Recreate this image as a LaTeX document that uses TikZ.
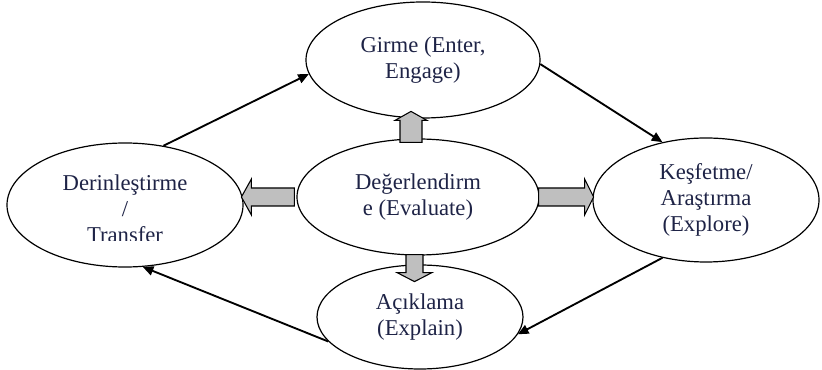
\documentclass[tikz,border=0pt]{standalone}
\usepackage{fontspec}
\setmainfont{Liberation Serif}
\usetikzlibrary{shapes.geometric,arrows.meta}

\newcommand\phasefont{\fontsize{17pt}{19.5pt}\selectfont}
\definecolor{phasetext}{RGB}{30,35,70}
\definecolor{fatgray}{RGB}{191,191,191}

\tikzset{
  phase/.style={ellipse, draw, line width=0.9pt, inner sep=0pt, align=center,
    font=\phasefont, text=phasetext},
  phaselabel/.style={inner sep=0pt, align=center, font=\phasefont, text=phasetext},
  fatarrow/.style={draw, line width=0.8pt, fill=fatgray, line join=miter},
  cycleline/.style={line width=1.4pt, -{Triangle[length=8pt,width=7pt]}}
}

\begin{document}
\begin{tikzpicture}[x=0.75pt,y=0.75pt,yscale=-1]
\useasboundingbox (0,0) rectangle (822,370);

% Ellipses
\node[phase, minimum width=175.5pt, minimum height=87pt] (girme) at (423,60) {Girme (Enter,\\Engage)};
\node[phase, minimum width=181.5pt, minimum height=87pt] (eval) at (418,197) {De\u{g}erlendirm\\e (Evaluate)};
\node[phase, minimum width=177pt, minimum height=93pt] (deri) at (125,205) {};
\node[phase, minimum width=169.5pt, minimum height=93pt] (kesf) at (706,200) {Ke\c{s}fetme/\\Ara\c{s}t\i{}rma\\(Explore)};
\node[phase, minimum width=154.5pt, minimum height=78pt] (acik) at (420,317) {A\c{c}\i{}klama\\(Explain)};

% text of the left ellipse, cut at the bottom
\begin{scope}
\clip (0,0) rectangle (822,241);
\node[phaselabel, yshift=-3pt] (deritext) at (deri.center) {Derinle\c{s}tirme\\/\\Transfer};
\end{scope}

% Block arrows out of the centre
\draw[fatarrow] (eval.north) ++(-18,4) -- ++(0,-22) -- ++(-5,0) -- ++(16,-9) -- ++(16,9) -- ++(-5,0) -- ++(0,22) -- cycle;
\draw[fatarrow] (eval.south) ++(-12,-1) -- ++(0,18) -- ++(-9,0) -- ++(17.5,9) -- ++(17.5,-9) -- ++(-9,0) -- ++(0,-18) -- cycle;
\draw[fatarrow] (eval.west) ++(-2,-9) -- ++(-43,0) -- ++(0,-9) -- ++(-10,18) -- ++(10,18) -- ++(0,-9) -- ++(43,0) -- cycle;
\draw[fatarrow] (eval.east) ++(-1,-9) -- ++(46,0) -- ++(0,-9) -- ++(9,18) -- ++(-9,18) -- ++(0,-9) -- ++(-46,0) -- cycle;

% Cycle
\draw[cycleline] (deri.57) -- (girme.187);
\draw[cycleline] (girme.358) -- (kesf.127);
\draw[cycleline] (kesf.233) -- (acik.350);
\draw[cycleline] (acik.195) -- (deri.286);
\end{tikzpicture}
\end{document}
